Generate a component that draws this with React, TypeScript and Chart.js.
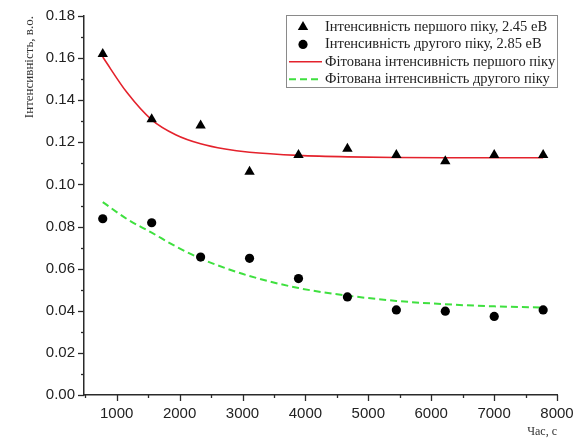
import React, { useEffect, useRef } from "react";
import { Chart, registerables } from "chart.js";

Chart.register(...registerables);

const timeS = [778, 1556, 2334, 3112, 3890, 4668, 5446, 6224, 7002, 7780];
const peak1 = [0.162, 0.131, 0.128, 0.106, 0.114, 0.117, 0.114, 0.111, 0.114, 0.114];
const peak2 = [0.0837, 0.0818, 0.0655, 0.0649, 0.0553, 0.0466, 0.0404, 0.0398, 0.0373, 0.0404];

const fitTime = [778, 1167, 1556, 1945, 2334, 2723, 3112, 3890, 4668, 5446, 6224, 7002, 7780];
const fit1 = [0.1605, 0.1435, 0.1307, 0.1235, 0.1193, 0.1168, 0.1153, 0.1138, 0.1131, 0.1128, 0.1127, 0.1127, 0.1127];
const fit2 = [0.0916, 0.0835, 0.0771, 0.0705, 0.0648, 0.0603, 0.0565, 0.0508, 0.0472, 0.0447, 0.0431, 0.0421, 0.0415];

const xTicks = [500, 1000, 1500, 2000, 2500, 3000, 3500, 4000, 4500, 5000, 5500, 6000, 6500, 7000, 7500, 8000];
const xLabels = ["1000", "2000", "3000", "4000", "5000", "6000", "7000", "8000"];
const yTicks = [0, 0.01, 0.02, 0.03, 0.04, 0.05, 0.06, 0.07, 0.08, 0.09, 0.1, 0.11, 0.12, 0.13, 0.14, 0.15, 0.16, 0.17, 0.18];
const yLabels = ["0.00", "0.02", "0.04", "0.06", "0.08", "0.10", "0.12", "0.14", "0.16", "0.18"];

const legendLabels = [
  "Інтенсивність першого піку, 2.45 eВ",
  "Інтенсивність другого піку, 2.85 eВ",
  "Фітована інтенсивність першого піку",
  "Фітована інтенсивність другого піку",
];

const xTitle = "Час, с";
const yTitle = "Інтенсивність, в.о.";

const AXIS = "#2a2a2a";

const isXMajor = (v: number) => xLabels.includes(String(v));
const isYMajor = (v: number) => yLabels.includes(v.toFixed(2));

const minorTicksPlugin = {
  id: "minorTicks",
  afterDraw(chart: any) {
    const ctx = chart.ctx;
    ctx.save();
    ctx.strokeStyle = AXIS;
    ctx.lineWidth = 1.3;
    const xs = chart.scales.x;
    const ys = chart.scales.y;
    const bottom = chart.chartArea.bottom;
    const left = chart.chartArea.left;
    xs.ticks.forEach((t: any) => {
      if (t.value < xs.min || t.value > xs.max) return;
      const px = Math.round(xs.getPixelForValue(t.value)) + 0.5;
      ctx.beginPath();
      ctx.moveTo(px, bottom);
      ctx.lineTo(px, bottom + (isXMajor(t.value) ? 6 : 3));
      ctx.stroke();
    });
    ys.ticks.forEach((t: any) => {
      const py = Math.round(ys.getPixelForValue(t.value)) + 0.5;
      ctx.beginPath();
      ctx.moveTo(left, py);
      ctx.lineTo(left - (isYMajor(t.value) ? 6 : 3), py);
      ctx.stroke();
    });
    ctx.restore();
  },
};

const legendPlugin = {
  id: "boxLegend",
  afterDraw(chart: any) {
    const ctx = chart.ctx;
    const area = chart.chartArea;
    const w = 271;
    const h = 72;
    const bx = area.right - w;
    const by = area.top - 1;
    ctx.save();
    ctx.fillStyle = "#ffffff";
    ctx.fillRect(bx, by, w, h);
    ctx.strokeStyle = "#8a8a8a";
    ctx.lineWidth = 1;
    ctx.strokeRect(bx + 0.5, by + 0.5, w, h);
    ctx.font = '14.5px "Liberation Serif", "Times New Roman", serif';
    ctx.textBaseline = "middle";
    ctx.textAlign = "left";
    const rowH = 17.4;
    chart.data.datasets.forEach((ds: any, i: number) => {
      const cy = by + 12 + i * rowH;
      const mx = bx + 17;
      if (ds.showLine === false) {
        ctx.fillStyle = ds.pointBackgroundColor;
        ctx.beginPath();
        if (ds.pointStyle === "triangle") {
          const r = ds.pointRadius;
          ctx.moveTo(mx, cy - r);
          ctx.lineTo(mx + r * 0.866, cy + r * 0.5);
          ctx.lineTo(mx - r * 0.866, cy + r * 0.5);
          ctx.closePath();
        } else {
          ctx.arc(mx, cy, ds.pointRadius, 0, Math.PI * 2);
        }
        ctx.fill();
      } else {
        ctx.strokeStyle = ds.borderColor;
        ctx.lineWidth = ds.borderWidth;
        ctx.setLineDash(ds.borderDash || []);
        ctx.beginPath();
        ctx.moveTo(bx + 3, cy);
        ctx.lineTo(bx + 36, cy);
        ctx.stroke();
        ctx.setLineDash([]);
      }
      ctx.fillStyle = "#222";
      ctx.fillText(ds.label, bx + 39, cy);
    });
    ctx.restore();
  },
};

export default function App() {
  const ref = useRef<HTMLCanvasElement | null>(null);
  useEffect(() => {
    if (!ref.current) return;
    const chart = new Chart(ref.current, {
      type: "scatter",
      data: {
        datasets: [
          {
            label: legendLabels[0],
            data: timeS.map((t, i) => ({ x: t, y: peak1[i] })),
            showLine: false,
            pointStyle: "triangle",
            pointRadius: 6,
            pointBackgroundColor: "#000",
            pointBorderWidth: 0,
            borderColor: "#000",
            order: 0,
          },
          {
            label: legendLabels[1],
            data: timeS.map((t, i) => ({ x: t, y: peak2[i] })),
            showLine: false,
            pointStyle: "circle",
            pointRadius: 4.6,
            pointBackgroundColor: "#000",
            pointBorderWidth: 0,
            borderColor: "#000",
            order: 0,
          },
          {
            label: legendLabels[2],
            data: fitTime.map((t, i) => ({ x: t, y: fit1[i] })),
            showLine: true,
            borderColor: "#e4222c",
            borderWidth: 1.6,
            pointRadius: 0,
            cubicInterpolationMode: "monotone",
            order: 1,
          },
          {
            label: legendLabels[3],
            data: fitTime.map((t, i) => ({ x: t, y: fit2[i] })),
            showLine: true,
            borderColor: "#3fe03f",
            borderWidth: 2,
            borderDash: [7, 4],
            pointRadius: 0,
            cubicInterpolationMode: "monotone",
            order: 1,
          },
        ],
      },
      options: {
        responsive: false,
        animation: false,
        layout: { padding: { left: 20, right: 26, top: 16, bottom: 0 } },
        plugins: { legend: { display: false }, tooltip: { enabled: false } },
        scales: {
          x: {
            type: "linear",
            min: 480,
            max: 8000,
            afterBuildTicks: (s: any) => {
              s.ticks = xTicks.map((v) => ({ value: v }));
            },
            afterFit: (s: any) => {
              s.height = 46;
            },
            border: { display: true, color: AXIS, width: 1.5 },
            grid: { display: true, drawOnChartArea: false, drawTicks: true, tickLength: 6, tickColor: "rgba(0,0,0,0)" },
            ticks: {
              autoSkip: false,
              maxRotation: 0,
              padding: 4,
              color: "#222",
              font: { family: '"Liberation Sans", Arial, sans-serif', size: 15 },
              callback: (v: any) => (isXMajor(Number(v)) ? String(v) : ""),
            },
            title: {
              display: true,
              text: xTitle,
              align: "end",
              color: "#333",
              font: { family: '"Liberation Serif", "Times New Roman", serif', size: 12 },
              padding: { top: 0, bottom: 2 },
            },
          },
          y: {
            type: "linear",
            min: 0,
            max: 0.18,
            afterBuildTicks: (s: any) => {
              s.ticks = yTicks.map((v) => ({ value: v }));
            },
            afterFit: (s: any) => {
              s.width = 64;
            },
            border: { display: true, color: AXIS, width: 1.5 },
            grid: { display: true, drawOnChartArea: false, drawTicks: true, tickLength: 6, tickColor: "rgba(0,0,0,0)" },
            ticks: {
              autoSkip: false,
              padding: 3,
              color: "#222",
              font: { family: '"Liberation Sans", Arial, sans-serif', size: 15 },
              callback: (v: any) => (isYMajor(Number(v)) ? Number(v).toFixed(2) : ""),
            },
            title: {
              display: true,
              text: yTitle,
              align: "end",
              color: "#333",
              font: { family: '"Liberation Serif", "Times New Roman", serif', size: 13 },
              padding: { top: 2, bottom: 0 },
            },
          },
        },
      },
      plugins: [minorTicksPlugin, legendPlugin],
    } as any);
    return () => chart.destroy();
  }, []);
  return (
    <div style={{ position: "fixed", left: 0, top: 0, width: 583, height: 441, background: "#fff" }}>
      <canvas ref={ref} width={583} height={441} />
    </div>
  );
}
